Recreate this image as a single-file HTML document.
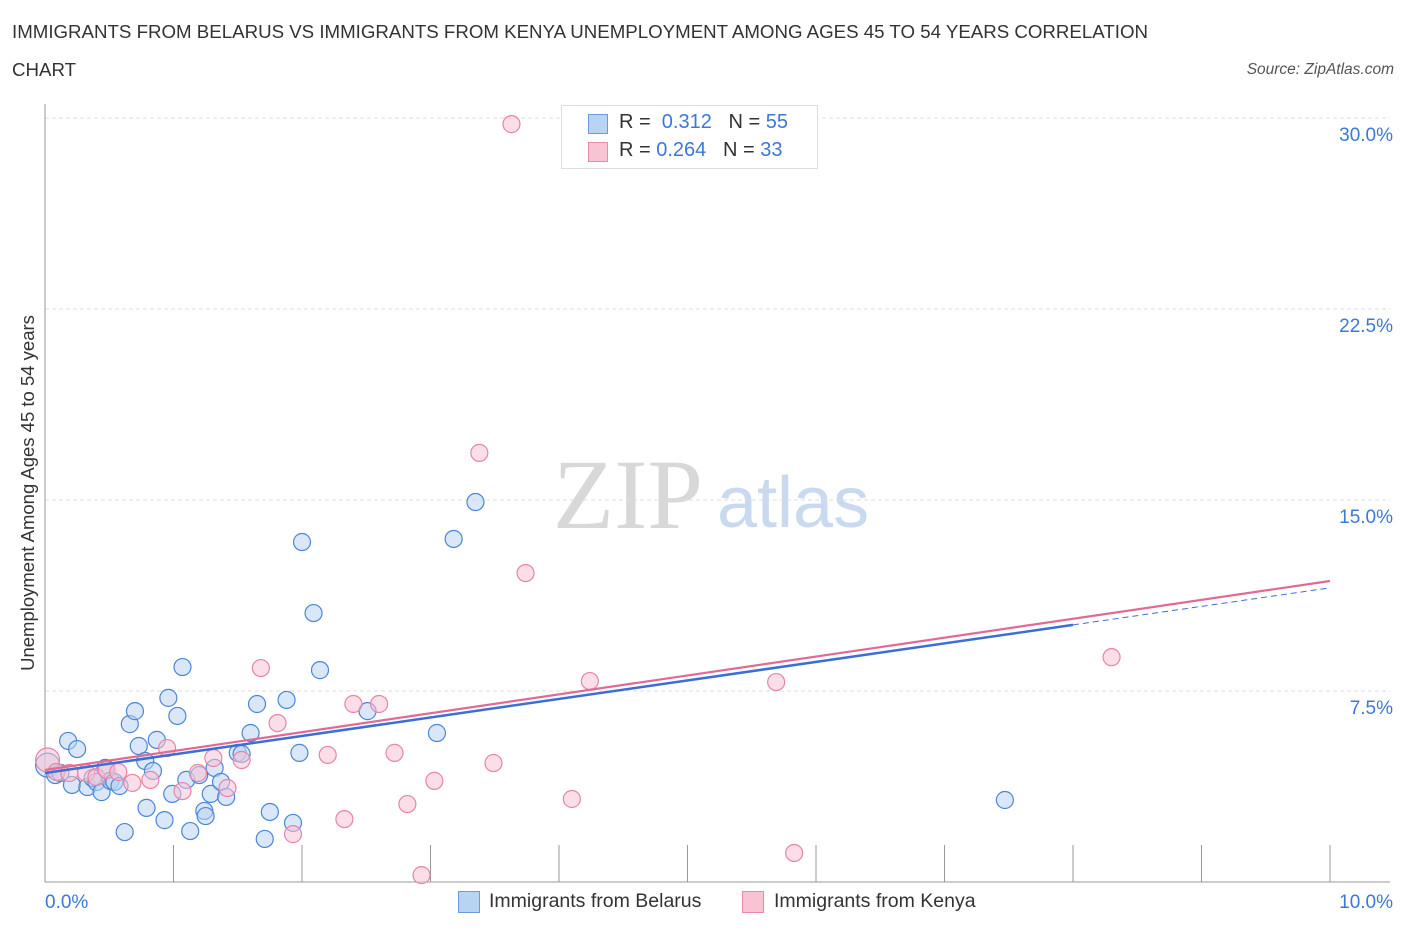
<!DOCTYPE html>
<html><head><meta charset="utf-8"><style>
body{margin:0;background:#fff;font-family:"Liberation Sans",sans-serif;}
#wrap{position:relative;width:1406px;height:930px;overflow:hidden;}
.t{position:absolute;white-space:nowrap;}
</style></head><body>
<div id="wrap">
<div class="t" style="left:12px;top:21px;font-size:18.7px;color:#333;">IMMIGRANTS FROM BELARUS VS IMMIGRANTS FROM KENYA UNEMPLOYMENT AMONG AGES 45 TO 54 YEARS CORRELATION</div>
<div class="t" style="left:12px;top:59px;font-size:18.7px;color:#333;">CHART</div>
<div class="t" style="right:12px;top:61px;font-size:15.5px;color:#555;font-style:italic;">Source: ZipAtlas.com</div>
<svg id="svg" width="1406" height="930" style="position:absolute;left:0;top:0"></svg>
</div>
<script>
const xTicks=[0,10];
const yTicks=[7.5,15,22.5,30];
const blueX=[0.02,0.08,0.12,0.18,0.21,0.25,0.33,0.37,0.40,0.44,0.47,0.51,0.54,0.58,0.62,0.66,0.70,0.73,0.78,0.79,0.84,0.87,0.93,0.96,0.99,1.03,1.07,1.10,1.13,1.20,1.24,1.25,1.29,1.32,1.37,1.41,1.50,1.53,1.60,1.65,1.71,1.75,1.88,1.93,1.98,2.00,2.09,2.14,2.51,3.05,3.18,3.35,7.47];
const blueY=[4.59,4.20,4.28,5.54,3.81,5.22,3.73,4.08,3.93,3.53,4.48,3.97,3.93,3.77,1.96,6.20,6.71,5.34,4.75,2.91,4.36,5.58,2.43,7.23,3.46,6.52,8.44,4.01,2.00,4.20,2.79,2.59,3.46,4.48,3.93,3.34,5.07,5.03,5.85,6.99,1.69,2.75,7.15,2.32,5.07,13.35,10.56,8.32,6.71,5.85,13.47,14.92,3.22];
const pinkX=[0.02,0.09,0.19,0.32,0.40,0.48,0.57,0.68,0.82,0.95,1.07,1.19,1.31,1.42,1.53,1.68,1.81,1.93,2.20,2.33,2.40,2.60,2.72,2.82,2.93,3.03,3.38,3.49,3.63,3.74,4.10,4.24,5.69,5.83,8.30];
const pinkY=[4.79,4.32,4.28,4.28,4.12,4.40,4.32,3.89,4.01,5.26,3.57,4.28,4.87,3.69,4.79,8.40,6.24,1.88,4.99,2.47,6.99,6.99,5.07,3.06,0.27,3.97,16.85,4.67,29.76,12.13,3.26,7.89,7.85,1.14,8.83];
const blueTrend=[4.28,11.55];
const pinkTrend=[4.40,11.82];
const NS="http://www.w3.org/2000/svg";
const svg=document.getElementById('svg');
const X0=45,X1=1330,Y0=882,PX=191/7.5;
const xs=v=>X0+(v/10)*(X1-X0);
const ys=v=>Y0-v*PX;
function mk(tag,at,parent){const e=document.createElementNS(NS,tag);for(const k in at)e.setAttribute(k,at[k]);(parent||svg).appendChild(e);return e;}
let w1=mk('text',{x:553,y:528,'font-family':'Liberation Serif,serif','font-size':100,fill:'#d8d8d8'});w1.textContent='ZIP';

let w2=mk('text',{x:717,y:527,'font-family':'Liberation Sans,sans-serif','font-size':72,fill:'#c8d9f0'});w2.textContent='atlas';

yTicks.forEach(v=>{let g=mk('line',{x1:X0,x2:1390,y1:ys(v),y2:ys(v),stroke:'#ddd','stroke-dasharray':'4,3'});

let t=mk('text',{x:1393,y:ys(v)+23,'text-anchor':'end','font-size':19,fill:'#3b78d8','font-family':'Liberation Sans,sans-serif'});t.textContent=v.toFixed(1)+'%';
});
let ax=mk('line',{x1:X0,x2:X0,y1:104,y2:Y0,stroke:'#999'});
let ax2=mk('line',{x1:X0,x2:1390,y1:Y0,y2:Y0,stroke:'#999'});
for(let i=1;i<=10;i++){let tk=mk('line',{x1:xs(i),x2:xs(i),y1:845,y2:Y0,stroke:'#999'});}
xTicks.forEach(v=>{let t=mk('text',{x:v===0?X0:1393,y:908,'text-anchor':v===0?'start':'end','font-size':19,fill:'#3b78d8','font-family':'Liberation Sans,sans-serif'});t.textContent=v.toFixed(1)+'%';
});
let yl=mk('text',{x:34,y:493,'text-anchor':'middle','font-size':18.5,fill:'#333',transform:'rotate(-90 34 493)','font-family':'Liberation Sans,sans-serif'});yl.textContent='Unemployment Among Ages 45 to 54 years';

function pts(xa,ya,fill,stroke,name){xa.forEach((x,i)=>{let c=mk('circle',{cx:xs(x),cy:ys(ya[i]),r:i===0?12:8.5,fill:fill,'fill-opacity':0.55,stroke:stroke,'stroke-width':1.2});
});}
pts(blueX,blueY,'#b9d3f3','#4a86d8','point-belarus');
pts(pinkX,pinkY,'#f8c3d3','#e884a6','point-kenya');
const bx=8.0, yb=blueTrend[0]+(blueTrend[1]-blueTrend[0])*bx/10;
let l1=mk('line',{x1:xs(0),y1:ys(blueTrend[0]),x2:xs(bx),y2:ys(yb),stroke:'#3b6fd6','stroke-width':2.5});

let l1d=mk('line',{x1:xs(bx),y1:ys(yb),x2:xs(10),y2:ys(blueTrend[1]),stroke:'#3b6fd6','stroke-width':1,'stroke-dasharray':'6,4'});

let l2=mk('line',{x1:xs(0),y1:ys(pinkTrend[0]),x2:xs(10),y2:ys(pinkTrend[1]),stroke:'#e06a95','stroke-width':2.2});

</script>
<div class="t" style="left:561px;top:105px;width:255px;height:62px;border:1px solid #ddd;background:#fff;">
 <div class="t" style="left:26px;top:8px;width:18px;height:18px;background:#b9d3f3;border:1px solid #6d9be0;"></div>
 <div class="t" style="left:57px;top:5px;font-size:20px;color:#333;">R = &nbsp;<span style="color:#3b78d8">0.312</span>&nbsp;&nbsp;&nbsp;N = <span style="color:#3b78d8">55</span></div>
 <div class="t" style="left:26px;top:36px;width:18px;height:18px;background:#f8c3d3;border:1px solid #e88aa9;"></div>
 <div class="t" style="left:57px;top:33px;font-size:20px;color:#333;">R = <span style="color:#3b78d8">0.264</span>&nbsp;&nbsp;&nbsp;N = <span style="color:#3b78d8">33</span></div>
</div>
<div class="t" style="left:458px;top:891px;width:20px;height:20px;background:#b9d3f3;border:1px solid #6d9be0;"></div>
<div class="t" style="left:489px;top:890px;font-size:19.5px;color:#333;">Immigrants from Belarus</div>
<div class="t" style="left:742px;top:891px;width:20px;height:20px;background:#f8c3d3;border:1px solid #e88aa9;"></div>
<div class="t" style="left:774px;top:890px;font-size:19.5px;color:#333;">Immigrants from Kenya</div>
</body></html>
